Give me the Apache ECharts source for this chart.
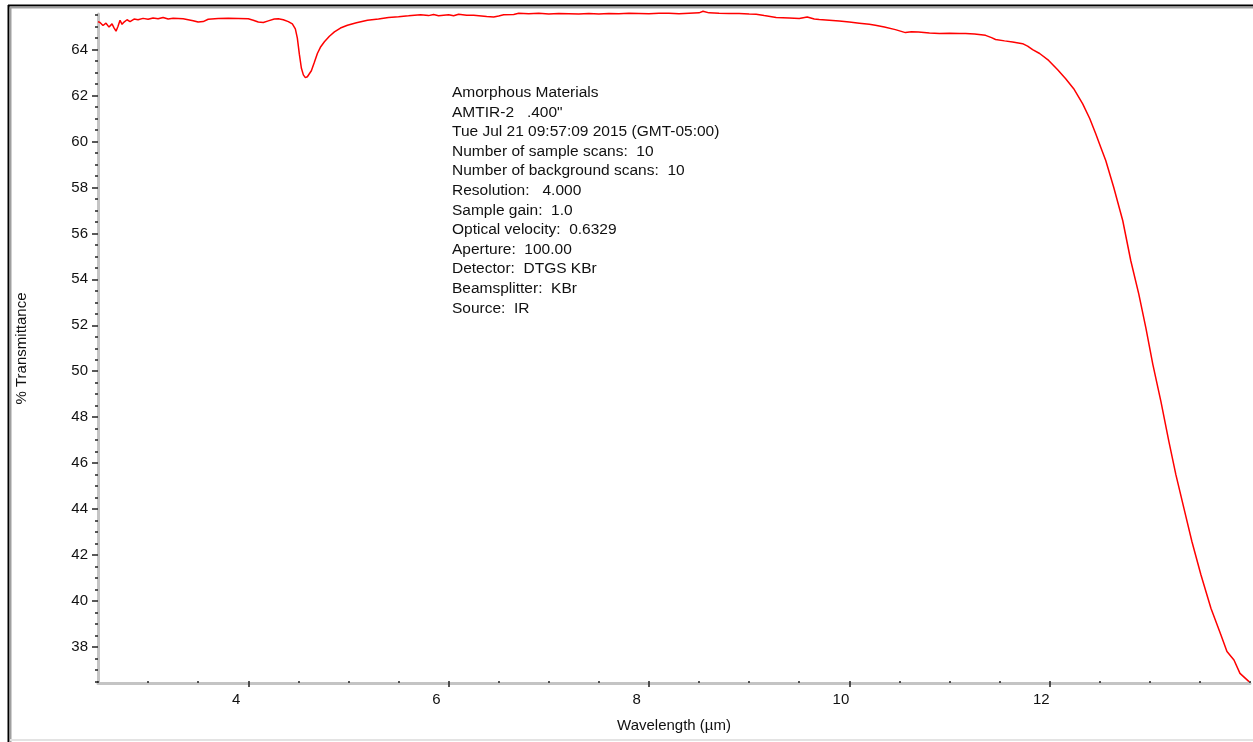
<!DOCTYPE html>
<html>
<head>
<meta charset="utf-8">
<script src="https://cdn.jsdelivr.net/npm/echarts@6/dist/echarts.min.js"></script>
<style>
html,body{margin:0;padding:0;background:#fff;}
#chart{width:1253px;height:742px;}
</style>
</head>
<body>
<div id="chart"></div>
<script>
// ---- data ----
const wavelength = [
 2.50,2.52,2.55,2.58,2.61,2.64,2.66,2.68,2.70,2.72,2.74,2.76,2.79,2.82,2.86,2.90,2.95,3.00,3.05,3.10,
 3.15,3.20,3.25,3.30,3.35,3.40,3.45,3.50,3.55,3.60,3.70,3.80,3.90,4.00,4.05,4.10,4.15,4.20,4.26,4.30,
 4.35,4.40,4.44,4.47,4.49,4.51,4.53,4.55,4.57,4.59,4.61,4.63,4.66,4.69,4.72,4.76,4.81,4.86,4.92,4.99,
 5.08,5.19,5.30,5.40,5.50,5.60,5.72,5.80,5.85,5.90,6.00,6.05,6.10,6.18,6.25,6.38,6.45,6.50,6.55,6.65,
 6.70,6.80,6.90,7.00,7.10,7.20,7.30,7.40,7.50,7.60,7.70,7.80,7.90,8.00,8.10,8.20,8.30,8.40,8.50,8.54,
 8.60,8.70,8.80,8.90,9.00,9.07,9.15,9.27,9.40,9.50,9.58,9.65,9.70,9.80,9.90,10.00,10.10,10.20,10.26,10.35,
 10.46,10.56,10.62,10.69,10.80,10.90,11.00,11.10,11.16,11.25,11.36,11.42,11.46,11.55,11.63,11.73,11.78,11.83,11.90,11.99,
 12.08,12.16,12.24,12.33,12.40,12.46,12.51,12.56,12.64,12.73,12.81,12.89,12.96,13.03,13.11,13.19,13.26,13.34,13.42,13.51,
 13.61,13.71,13.77,13.84,13.90,13.99
];
const transmittance = [
 65.22,65.18,65.05,65.15,64.98,65.12,64.95,64.80,65.02,65.28,65.10,65.20,65.30,65.22,65.33,65.30,65.36,65.32,65.38,65.34,
 65.40,65.33,65.36,65.35,65.34,65.30,65.26,65.20,65.22,65.32,65.35,65.36,65.35,65.34,65.28,65.20,65.18,65.25,65.33,65.34,
 65.30,65.22,65.12,64.90,64.50,63.80,63.20,62.90,62.78,62.82,62.95,63.08,63.45,63.83,64.10,64.34,64.58,64.77,64.94,65.06,
 65.17,65.28,65.33,65.40,65.43,65.47,65.52,65.48,65.53,65.47,65.52,65.47,65.54,65.50,65.50,65.44,65.42,65.46,65.52,65.53,
 65.58,65.56,65.58,65.55,65.57,65.56,65.55,65.57,65.55,65.57,65.56,65.58,65.57,65.56,65.58,65.58,65.56,65.58,65.60,65.67,
 65.60,65.58,65.57,65.57,65.55,65.54,65.48,65.40,65.38,65.35,65.42,65.33,65.31,65.28,65.25,65.20,65.15,65.10,65.06,64.98,
 64.87,64.74,64.78,64.77,64.72,64.70,64.71,64.70,64.70,64.68,64.62,64.52,64.44,64.38,64.33,64.26,64.15,64.00,63.83,63.53,
 63.12,62.73,62.30,61.64,61.00,60.34,59.75,59.17,58.00,56.55,54.81,53.36,51.90,50.30,48.70,46.95,45.50,44.04,42.59,41.14,
 39.68,38.52,37.80,37.43,36.85,36.49
];
const xMajorTicks = [4, 6, 8, 10, 12];
const yMajorTicks = [38, 40, 42, 44, 46, 48, 50, 52, 54, 56, 58, 60, 62, 64];
const xTitle = 'Wavelength (µm)';
const yTitle = '% Transmittance';
const infoLines = [
 'Amorphous Materials',
 'AMTIR-2   .400"',
 'Tue Jul 21 09:57:09 2015 (GMT-05:00)',
 'Number of sample scans:  10',
 'Number of background scans:  10',
 'Resolution:   4.000',
 'Sample gain:  1.0',
 'Optical velocity:  0.6329',
 'Aperture:  100.00',
 'Detector:  DTGS KBr',
 'Beamsplitter:  KBr',
 'Source:  IR'
];

// ---- axis ranges ----
const X_MIN = 2.5, X_MAX = 14.0;
const Y_MIN = 36.43, Y_MAX = 65.55;
const xMinorTicks = [];
for (let v = 2.5; v <= 14.0001; v += 0.5) xMinorTicks.push(Math.round(v * 10) / 10);
const yMinorTicks = [];
for (let v = 36.5; v <= 65.5001; v += 0.5) yMinorTicks.push(Math.round(v * 10) / 10);

const FONT = '"Liberation Sans", Arial, sans-serif';
const TXT = '#111';

const chart = echarts.init(document.getElementById('chart'), null, {renderer: 'canvas'});
const option = {
  backgroundColor: '#ffffff',
  animation: false,
  textStyle: {fontFamily: FONT},
  grid: {left: 98, right: 3, top: 14, bottom: 59, outerBoundsMode: 'none', containLabel: false},
  xAxis: [
    {
      type: 'value', min: X_MIN, max: X_MAX, position: 'bottom',
      name: xTitle, nameLocation: 'middle', nameGap: 35,
      nameTextStyle: {fontFamily: FONT, fontSize: 15, color: TXT},
      axisLine: {show: true, onZero: false, lineStyle: {color: '#c4c4c4', width: 3}},
      axisTick: {show: true, length: 4, customValues: xMajorTicks, lineStyle: {color: '#222', width: 1.5}},
      axisLabel: {
        show: true, customValues: xMajorTicks, margin: 9, align: 'right',
        fontFamily: FONT, fontSize: 15, color: TXT,
        formatter: v => (v < 10 ? '{s|' + v + '}' : '{n|' + v + '}'),
        rich: {s: {fontFamily: FONT, fontSize: 15, color: TXT, padding: [0, 8, 0, 0]},
               n: {fontFamily: FONT, fontSize: 15, color: TXT}}
      },
      splitLine: {show: false}
    },
    {
      type: 'value', min: X_MIN, max: X_MAX, position: 'bottom', gridIndex: 0,
      axisLine: {show: false, onZero: false},
      axisTick: {show: true, inside: true, length: 2, customValues: xMinorTicks, lineStyle: {color: '#222', width: 1.5}},
      axisLabel: {show: false},
      splitLine: {show: false}
    }
  ],
  yAxis: [
    {
      type: 'value', min: Y_MIN, max: Y_MAX, position: 'left',
      name: yTitle, nameLocation: 'middle', nameGap: 69, nameRotate: 90,
      nameTextStyle: {fontFamily: FONT, fontSize: 15, color: TXT},
      axisLine: {show: true, onZero: false, lineStyle: {color: '#c4c4c4', width: 3}},
      axisTick: {show: true, length: 6, customValues: yMajorTicks, lineStyle: {color: '#222', width: 1.5}},
      axisLabel: {show: true, customValues: yMajorTicks, margin: 10, fontFamily: FONT, fontSize: 15, color: TXT},
      splitLine: {show: false}
    },
    {
      type: 'value', min: Y_MIN, max: Y_MAX, position: 'left', gridIndex: 0,
      axisLine: {show: false, onZero: false},
      axisTick: {show: true, length: 3, customValues: yMinorTicks, lineStyle: {color: '#222', width: 1.5}},
      axisLabel: {show: false},
      splitLine: {show: false}
    }
  ],
  series: [{
    type: 'line',
    xAxisIndex: 0, yAxisIndex: 0,
    data: wavelength.map((w, i) => [w, transmittance[i]]),
    showSymbol: false, symbol: 'none',
    clip: false,
    lineStyle: {color: '#ff0000', width: 1.5},
    emphasis: {disabled: true}
  }],
  graphic: [
    {type: 'line', silent: true, shape: {x1: 8, y1: 5.5, x2: 1253, y2: 5.5}, style: {stroke: '#000', lineWidth: 2}},
    {type: 'line', silent: true, shape: {x1: 9, y1: 7.5, x2: 1253, y2: 7.5}, style: {stroke: '#a0a0a0', lineWidth: 2}},
    {type: 'line', silent: true, shape: {x1: 8.5, y1: 5, x2: 8.5, y2: 742}, style: {stroke: '#000', lineWidth: 2}},
    {type: 'line', silent: true, shape: {x1: 10.5, y1: 7, x2: 10.5, y2: 742}, style: {stroke: '#a0a0a0', lineWidth: 2}},
    {type: 'line', silent: true, shape: {x1: 10, y1: 740, x2: 1253, y2: 740}, style: {stroke: '#e3e3e3', lineWidth: 2}},
    {
      type: 'text', silent: true, left: 452, top: 83,
      style: {text: infoLines.join('\n'), font: '15.5px ' + FONT, fill: TXT, lineHeight: 19.6}
    }
  ]
};
chart.setOption(option);
</script>
</body>
</html>
